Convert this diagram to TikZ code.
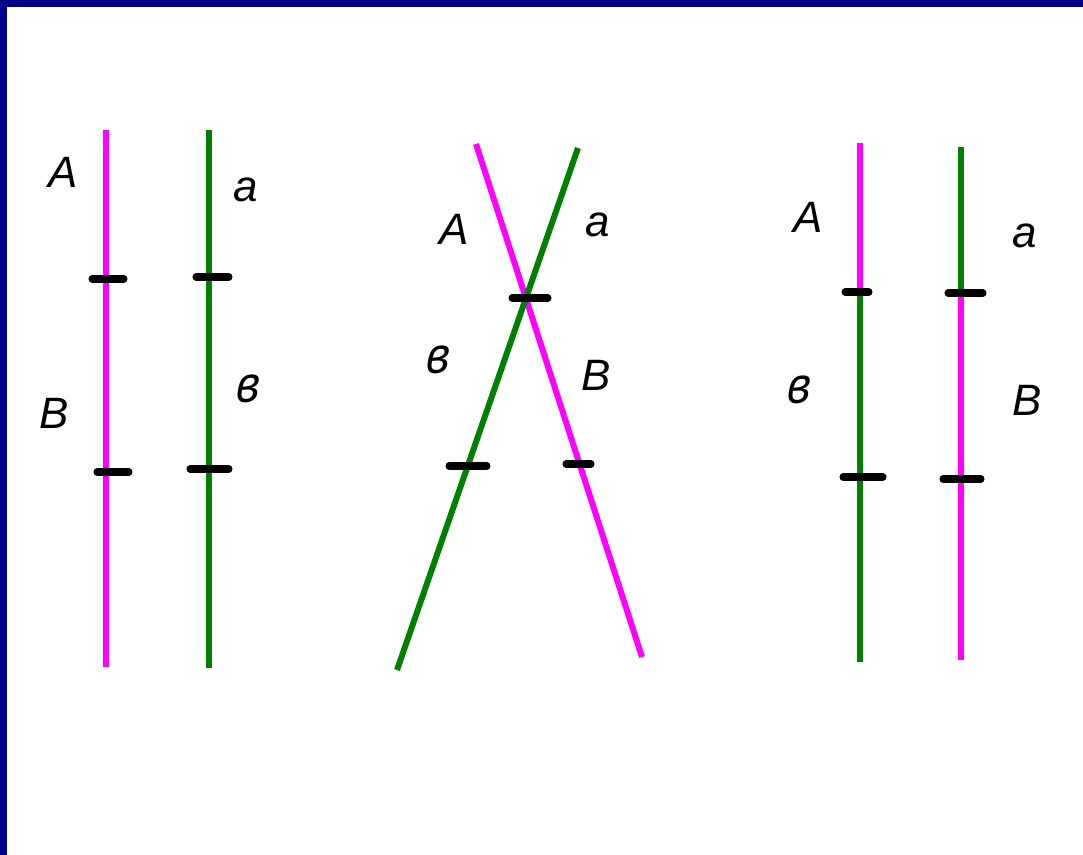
\documentclass[tikz,border=0pt]{standalone}
\usepackage{fontspec}
\setmainfont{Liberation Sans}
\newfontfamily\cyrcursive{PT Sans}
\usetikzlibrary{positioning}
\definecolor{slideblue}{RGB}{0,0,139}
\definecolor{chromA}{RGB}{255,0,255}
\definecolor{chroma}{RGB}{0,128,0}
\newcommand{\vgene}{{\cyrcursive\itshape\fontsize{31}{34}\selectfont в}}

\begin{document}
\begin{tikzpicture}[x=0.02cm, y=-0.02cm,
    chrom/.style={line width=3.4pt},
    locus/.style={line width=4pt, line cap=round, black},
    gene/.style={font=\itshape\fontsize{25}{28}\selectfont, inner sep=0pt}]
  \useasboundingbox (0,0) rectangle (1083,855);

  % slide frame
  \fill[slideblue] (0,0) rectangle (7,855);
  \fill[slideblue] (0,0) rectangle (1083,7);

  % before crossing over
  \draw[chrom, chromA] (106,130) -- (106,667);
  \draw[chrom, chroma] (209,130) -- (209,668);
  \foreach \xa/\xb/\y in {92/124/279, 97/129/472, 196/229/277, 190/229/469} {
    \draw[locus] (\xa,\y) -- (\xb,\y);
  }
  \node[gene] (A1) at (63,172) {A};
  \node[gene] (B1) at (54,413) {B};
  \node[gene] (a1) at (246,190) {a};
  \node[gene] (b1) at (248,389) {\vgene};

  % crossing
  \draw[chrom, chromA] (476,144) -- (642,657);
  \draw[chrom, chroma] (578,148) -- (397,670);
  \foreach \xa/\xb/\y in {512/548/298, 449/487/466, 566/591/464} {
    \draw[locus] (\xa,\y) -- (\xb,\y);
  }
  \node[gene] (A2) at (454,229) {A};
  \node[gene] (a2) at (598,225) {a};
  \node[gene] (b2) at (438,360) {\vgene};
  \node[gene] (B2) at (596,375) {B};

  % after crossing over
  \draw[chrom, chromA] (860,143) -- (860,292);
  \draw[chrom, chroma] (860,292) -- (860,662);
  \draw[chrom, chroma] (961,147) -- (961,293);
  \draw[chrom, chromA] (961,293) -- (961,660);
  \foreach \xa/\xb/\y in {845/869/292, 948/983/293, 843/883/477, 943/981/479} {
    \draw[locus] (\xa,\y) -- (\xb,\y);
  }
  \node[gene] (A3) at (808,217) {A};
  \node[gene] (a3) at (1025,236) {a};
  \node[gene] (b3) at (799,390) {\vgene};
  \node[gene] (B3) at (1027,400) {B};
\end{tikzpicture}
\end{document}
